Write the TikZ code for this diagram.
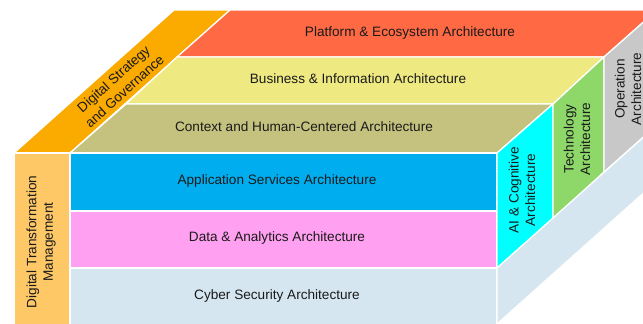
\documentclass[tikz,border=0pt]{standalone}
\usepackage{fontspec}
\setmainfont{Liberation Sans}
\definecolor{cRed}{HTML}{FF6A45}
\definecolor{cYellow}{HTML}{EFE982}
\definecolor{cOlive}{HTML}{C5C27F}
\definecolor{cBlue}{HTML}{00AEEF}
\definecolor{cPink}{HTML}{FFA0F0}
\definecolor{cLight}{HTML}{D5E6F0}
\definecolor{cCyan}{HTML}{00FFFF}
\definecolor{cGreen}{HTML}{8ED86A}
\definecolor{cGrey}{HTML}{C8C8C8}
\definecolor{cOrange}{HTML}{FBAA00}
\definecolor{cLOrange}{HTML}{FEC867}
\definecolor{cText}{HTML}{1A1A1A}
\begin{document}
\begin{tikzpicture}[x=1pt,y=-1pt,
  face/.style={draw=white,line width=1.3pt,line join=round},
  lbl/.style={font=\fontsize{13.6}{16.5}\selectfont, text=cText, inner sep=0pt, align=center}]
\useasboundingbox (0,0) rectangle (643,324);
\clip (0,0) rectangle (643,324);
\fill[white] (0,0) rectangle (643,324);
% top face
\filldraw[face,fill=cOrange] (14,153) -- (70,153) -- (230,10) -- (174,10) -- cycle;
\filldraw[face,fill=cRed] (177,57) -- (604,57) -- (657,10) -- (230,10) -- cycle;
\filldraw[face,fill=cYellow] (126,104) -- (553,104) -- (604,57) -- (177,57) -- cycle;
\filldraw[face,fill=cOlive] (70,153) -- (497,153) -- (553,104) -- (126,104) -- cycle;
% front face
\filldraw[face,fill=cLOrange] (14,153) rectangle (70,340);
\filldraw[face,fill=cBlue] (70,153) rectangle (497,211);
\filldraw[face,fill=cPink] (70,211) rectangle (497,268);
\filldraw[face,fill=cLight] (70,268) rectangle (497,340);
% right face
\filldraw[face,fill=cCyan] (497,153) -- (553,104) -- (553,219) -- (497,268) -- cycle;
\filldraw[face,fill=cGreen] (553,104) -- (604,57) -- (604,172) -- (553,219) -- cycle;
\filldraw[face,fill=cGrey] (604,57) -- (657,10) -- (657,125) -- (604,172) -- cycle;
\filldraw[face,fill=cLight] (497,268) -- (657,125) -- (657,181) -- (497,324) -- cycle;
% labels
\node[lbl] (plat) at (410,33) {Platform \& Ecosystem Architecture};
\node[lbl] (bus) at (358,79) {Business \& Information Architecture};
\node[lbl] (ctx) at (304,127) {Context and Human-Centered Architecture};
\node[lbl] (app) at (277,181) {Application Services Architecture};
\node[lbl] (data) at (277,238) {Data \& Analytics Architecture};
\node[lbl] (cyber) at (277,296) {Cyber Security Architecture};
\node[lbl,rotate=90] (dtm) at (41,242) {Digital Transformation\\Management};
\node[lbl,rotate=42] (dsg) at (119,85) {Digital Strategy\\and Governance};
\node[lbl,rotate=90] (ai) at (522,190) {AI \& Cognitive\\Architecture};
\node[lbl,rotate=90] (tech) at (577,139) {Technology\\Architecture};
\node[lbl,rotate=90] (op) at (628,89) {Operation\\Architecture};
\end{tikzpicture}
\end{document}
